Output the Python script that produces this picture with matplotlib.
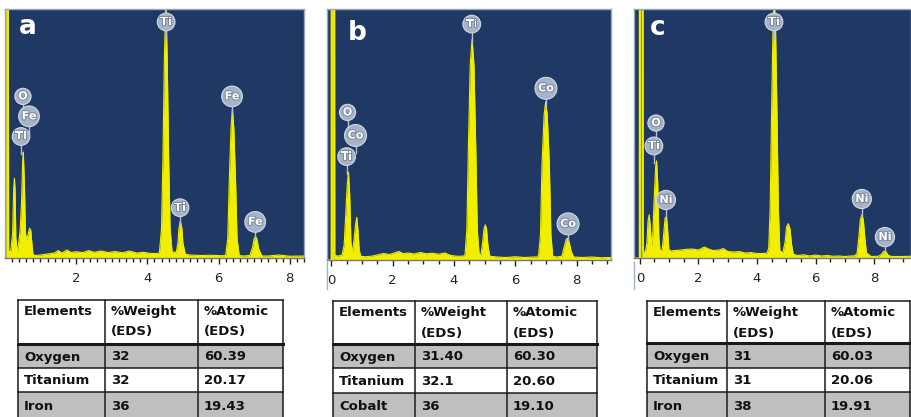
import matplotlib.pyplot as plt
import matplotlib.patheffects as pe
from matplotlib.patches import Rectangle
from matplotlib.ticker import MultipleLocator

W, H = 911, 417

# ---- EDS spectra (energy in keV, counts in % of full scale) ----
energy_a = [0.0, 0.035, 0.04, 0.10, 0.11, 0.16, 0.22, 0.25, 0.27, 0.29, 0.31, 0.35, 0.39, 0.43, 0.47, 0.50,
            0.52, 0.55, 0.58, 0.62, 0.66, 0.70, 0.73, 0.76, 0.79, 0.85,
            1.0, 1.2, 1.4, 1.5, 1.6, 1.75, 1.85, 2.0, 2.2, 2.35, 2.5, 2.7, 2.9, 3.1, 3.3, 3.5, 3.7, 3.9, 4.1, 4.3,
            4.34, 4.40, 4.44, 4.48, 4.52, 4.56, 4.60, 4.64, 4.70, 4.76, 4.81, 4.86, 4.89, 4.93, 4.97, 5.00, 5.07,
            5.2, 5.5, 5.8, 6.1, 6.20, 6.26, 6.30, 6.35, 6.39, 6.43, 6.48, 6.52, 6.58,
            6.7, 6.88, 6.96, 7.00, 7.04, 7.08, 7.13, 7.22, 7.4, 7.7, 8.0, 8.4]
counts_a = [0, 0, 103, 103, 3, 2, 10, 28, 32, 27, 8, 2, 6, 11, 22, 38,
            42.5, 30, 10, 7, 10, 12, 11, 6, 1.5, 1,
            1.2, 1.6, 2.0, 3.0, 2.0, 3.2, 2.2, 2.5, 2.2, 3.0, 2.3, 2.8, 2.2, 2.6, 2.1, 2.8, 2.0, 2.3, 1.8, 1.8,
            2, 12, 40, 80, 103, 80, 40, 12, 2, 2.5, 2, 6, 12, 14.8, 12, 6, 1.5,
            1.2, 1.0, 1.1, 0.9, 1, 8, 30, 52, 60, 52, 30, 8, 1,
            0.8, 1, 4.5, 7.8, 8.7, 7.5, 3.5, 0.8, 0.8, 1.2, 0.7, 0.8]

energy_b = [-0.14, -0.005, -0.004, 0.03, 0.031, 0.075, 0.076, 0.11, 0.115, 0.2, 0.35, 0.42, 0.47, 0.52, 0.56,
            0.60, 0.64, 0.69, 0.74, 0.79, 0.83, 0.87, 0.91, 0.96,
            1.1, 1.3, 1.5, 1.7, 1.9, 2.05, 2.2, 2.35, 2.5, 2.7, 2.9, 3.1, 3.3, 3.5, 3.7, 3.9, 4.1, 4.3,
            4.36, 4.42, 4.47, 4.53, 4.59, 4.65, 4.71, 4.76, 4.82, 4.88, 4.93, 4.98, 5.02, 5.06, 5.11, 5.17,
            5.4, 5.7, 6.0, 6.3, 6.6, 6.72,
            6.76, 6.82, 6.87, 6.94, 6.99, 7.04, 7.11, 7.16, 7.22, 7.35, 7.52, 7.6, 7.66, 7.7, 7.75, 7.82, 7.9,
            8.2, 8.5, 8.8, 9.12]
counts_b = [0, 0, 103, 103, 0, 0, 103, 103, 2, 1.5, 2, 6, 18, 30, 35,
            26, 7, 3, 8, 14, 17, 12, 4, 1.5,
            1.3, 1.5, 2.0, 2.6, 2.2, 2.8, 3.4, 2.5, 2.8, 2.4, 3.0, 2.5, 2.7, 2.3, 2.8, 1.8, 1.5, 1.5,
            2, 12, 45, 78, 88, 78, 45, 12, 2.5, 2, 6.5, 12.5, 14, 12.5, 5.5, 1.5,
            1.2, 1.0, 1.3, 1.0, 1.2, 1.2,
            2, 10, 38, 58, 63, 58, 38, 10, 1.5, 1.2, 1.5, 5.5, 8.2, 8.7, 7.5, 3.5, 1.2,
            1.0, 1.2, 0.9, 1.0]

energy_c = [-0.2, -0.02, -0.019, 0.015, 0.016, 0.075, 0.076, 0.11, 0.115, 0.18, 0.24, 0.28, 0.32, 0.36, 0.40,
            0.44, 0.49, 0.54, 0.57, 0.61, 0.65, 0.69, 0.76, 0.81, 0.86, 0.91, 0.95, 0.99, 1.05,
            1.2, 1.4, 1.6, 1.8, 2.0, 2.2, 2.35, 2.5, 2.7, 2.85, 3.0, 3.2, 3.4, 3.6, 3.8, 4.0, 4.2, 4.35,
            4.40, 4.45, 4.50, 4.55, 4.59, 4.63, 4.68, 4.73, 4.78, 4.88, 4.96, 5.01, 5.07, 5.13, 5.18, 5.24,
            5.4, 5.6, 5.8, 6.0, 6.2, 6.4, 6.6, 6.8, 7.0, 7.2, 7.35,
            7.42, 7.48, 7.53, 7.58, 7.63, 7.68, 7.74, 7.9, 8.15, 8.25, 8.33, 8.41, 8.49, 8.6, 8.9, 9.26]
counts_c = [0, 0, 103, 103, 0, 0, 103, 103, 3, 2, 6, 15, 17.4, 12, 5,
            9, 24, 37, 39, 30, 8, 3, 3, 9, 16, 16.7, 11, 3.5, 2.8,
            3.0, 3.2, 3.5, 3.6, 3.2, 4.4, 3.6, 3.0, 3.2, 3.8, 2.6, 2.4, 2.6, 2.0, 2.2, 1.8, 1.8, 2.0,
            4, 20, 60, 95, 103, 95, 60, 20, 3, 2, 6.5, 12.5, 13.8, 11.5, 5.5, 1.5,
            1.0, 1.3, 0.8, 1.2, 0.8, 1.0, 0.7, 0.8, 0.6, 0.8, 0.9,
            2, 8.5, 15.5, 17.4, 15.5, 8.5, 2, 0.6, 0.7, 1.5, 2.7, 2.4, 1, 0.6, 0.6, 0.7]

# peak labels: (element, energy, height)
labels_a = [("Ti", 4.53, 94.8), ("O", 0.51, 64.9), ("Fe", 0.68, 56.9), ("Ti", 0.455, 48.8),
            ("Ti", 4.92, 20.2), ("Fe", 6.38, 64.9), ("Fe", 7.03, 14.5)]
labels_b = [("Ti", 4.58, 94.0), ("O", 0.53, 58.8), ("Co", 0.79, 49.6), ("Ti", 0.50, 41.2),
            ("Co", 7.00, 68.4), ("Co", 7.72, 14.4)]
labels_c = [("Ti", 4.58, 94.8), ("O", 0.55, 54.2), ("Ti", 0.48, 45.0), ("Ni", 0.89, 23.3),
            ("Ni", 7.58, 23.7), ("Ni", 8.37, 8.4)]

# ---- composition tables ----
header = ["Elements", "%Weight\n(EDS)", "%Atomic\n(EDS)"]
elements_a = ["Oxygen", "Titanium", "Iron"]
weight_a = ["32", "32", "36"]
atomic_a = ["60.39", "20.17", "19.43"]
elements_b = ["Oxygen", "Titanium", "Cobalt"]
weight_b = ["31.40", "32.1", "36"]
atomic_b = ["60.30", "20.60", "19.10"]
elements_c = ["Oxygen", "Titanium", "Iron"]
weight_c = ["31", "31", "38"]
atomic_c = ["60.03", "20.06", "19.91"]

NAVY = "#1f3864"
YELLOW = "#f2ee00"

fig = plt.figure(figsize=(W / 100, H / 100), dpi=100)


def px_box(x0, y0, x1, y1):
    return [x0 / W, 1 - y1 / H, (x1 - x0) / W, (y1 - y0) / H]


def spectrum(box, xlim, energy, counts, labels, minor):
    ax = fig.add_axes(px_box(*box))
    ax.set_facecolor(NAVY)
    ax.fill_between(energy, counts, color=YELLOW, lw=0)
    ax.plot(energy, counts, color=YELLOW, lw=0.8)
    ax.set_xlim(*xlim)
    ax.set_ylim(0, 100)
    ax.set_yticks([])
    ax.xaxis.set_major_locator(MultipleLocator(2))
    ax.xaxis.set_minor_locator(MultipleLocator(minor))
    ax.tick_params(axis="x", which="major", length=4, width=1, pad=6, labelsize=9.5, colors="#222222")
    ax.tick_params(axis="x", which="minor", length=3, width=1, color="#222222")
    for s in ax.spines.values():
        s.set_color("#9aa6bd")
        s.set_linewidth(1)
    ax.spines["bottom"].set_color("#777777")
    for el, x, y in labels:
        ax.plot([x, x], [y, y - 7], color="#b5c0d2", lw=1, zorder=3)
        ax.text(x, y, el, ha="center", va="center", color="white", fontsize=8, fontweight="bold",
                zorder=4,
                bbox=dict(boxstyle="circle,pad=0.28", fc="#a7b3c7", ec="#d0d7e2", lw=0.8),
                path_effects=[pe.withStroke(linewidth=1.5, foreground="#7d8ba3")])
    return ax


ax_a = spectrum((5, 9, 304, 258), (0.006, 8.40), energy_a, counts_a, labels_a, 0.2)
ax_b = spectrum((327, 9, 611, 260), (-0.14, 9.12), energy_b, counts_b, labels_b, 0.5)
ax_c = spectrum((634, 9, 911, 258), (-0.2, 9.26), energy_c, counts_c, labels_c, 0.5)
ax_a.set_xticks([2, 4, 6, 8])

# canvas in pixel coordinates for tables and panel letters
cv = fig.add_axes([0, 0, 1, 1])
cv.set_xlim(0, W)
cv.set_ylim(H, 0)
cv.axis("off")
cv.set_zorder(10)
cv.patch.set_visible(False)

for letter, x, y in [("a", 28, 27), ("b", 357, 33), ("c", 658, 28)]:
    cv.text(x, y, letter, color="white", fontsize=19, fontweight="bold", ha="center", va="center")

for x in (327, 634):
    cv.plot([x, x], [262, 289], color="#9fb3d0", lw=1)

tfont = ["Liberation Sans Narrow", "DejaVu Sans"]


def table(cols, rows, elements, weight, atomic):
    x0, x1 = cols[0], cols[-1]
    fills = ["white", "#bfbfbf", "white", "#bfbfbf"]
    for i in range(len(rows) - 1):
        cv.add_patch(Rectangle((x0, rows[i]), x1 - x0, rows[i + 1] - rows[i], fc=fills[i], ec="none"))
    for i, y in enumerate(rows[:-1]):
        cv.plot([x0, x1], [y, y], color="#1a1a1a", lw=2.2 if i == 1 else 1.1)
    for x in cols:
        cv.plot([x, x], [rows[0], rows[-1]], color="#1a1a1a", lw=1.1)
    for j, h in enumerate(header):
        cv.text(cols[j] + 6, rows[0] + 5, h, family=tfont, fontweight="bold", fontsize=9.5,
                va="top", ha="left", linespacing=1.75, color="#111111")
    for i, vals in enumerate(zip(elements, weight, atomic)):
        yc = (rows[i + 1] + rows[i + 2]) / 2 + 1
        for j, v in enumerate(vals):
            cv.text(cols[j] + 6, yc, v, family=tfont, fontweight="bold", fontsize=9.5,
                    va="center", ha="left", color="#111111")


table([18, 105, 198, 283], [300, 344, 368, 392, 420], elements_a, weight_a, atomic_a)
table([333, 415, 507, 597], [301, 344, 368, 393, 417], elements_b, weight_b, atomic_b)
table([647, 727, 825, 910], [301, 343, 368, 392, 420], elements_c, weight_c, atomic_c)

fig.savefig("out.png", dpi=100)
